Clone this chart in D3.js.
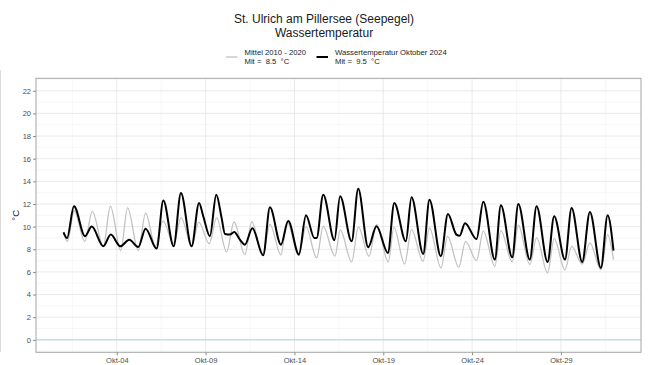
<!DOCTYPE html>
<html>
<head>
<meta charset="utf-8">
<script src="https://cdn.jsdelivr.net/npm/d3@7"></script>
<style>
  body { margin: 0; background: #fff; }
  text { font-family: "Liberation Sans", Arial, sans-serif; }
</style>
</head>
<body>
<svg width="649" height="365"></svg>
<script>
// days counted from Okt-01 00:00, values in °C
let mittel = [
  [0, 9.5], [0.22, 8.7], [0.6, 11.4],
  [1.2, 8.7], [1.62, 11.35],
  [2.24, 8.26], [2.64, 11.8],
  [3.22, 7.88], [3.61, 11.65],
  [4.21, 7.88], [4.62, 11.2],
  [5.18, 8.26], [5.6, 10.5],
  [6.2, 8.5], [6.62, 10.8],
  [7.21, 8.26], [7.62, 10.4],
  [8.2, 8.5], [8.62, 10.77],
  [9.18, 7.76], [9.6, 10.41],
  [10.21, 7.53], [10.6, 10.45],
  [11.2, 7.44], [11.62, 10.2],
  [12.24, 7.5], [12.58, 10.47],
  [13.24, 7.47], [13.65, 10.0],
  [14.25, 7.24], [14.62, 10.03],
  [15.28, 7.39], [15.58, 9.7],
  [16.22, 6.88], [16.6, 9.97],
  [17.2, 7.38], [17.62, 10.2],
  [18.28, 6.88], [18.6, 9.94],
  [19.2, 6.7], [19.59, 9.73],
  [20.24, 6.94], [20.6, 9.88],
  [21.25, 6.35], [21.62, 9.14],
  [22.25, 6.4], [22.63, 8.7],
  [23.25, 7.0], [23.63, 9.6],
  [24.28, 6.5], [24.62, 9.64],
  [25.26, 6.88], [25.6, 10.12],
  [26.25, 6.65], [26.63, 9.0],
  [27.25, 5.91], [27.62, 8.94],
  [28.23, 6.18], [28.6, 8.26],
  [29.2, 6.7], [29.63, 8.56],
  [30.25, 6.18], [30.63, 9.29],
  [30.96, 7.09]
];

let oktober2024 = [
  [0, 9.5], [0.2, 9.0], [0.59, 11.8],
  [1.21, 9.15], [1.59, 10.0],
  [2.24, 8.26], [2.66, 9.3],
  [3.2, 8.26], [3.7, 8.85],
  [4.21, 8.2], [4.62, 9.82],
  [5.24, 8.06], [5.62, 12.3],
  [6.2, 8.26], [6.61, 12.97],
  [7.21, 8.26], [7.63, 12.09], [7.87, 10.9],
  [8.24, 9.15], [8.6, 12.82], [8.9, 10.77],
  [9.09, 9.35], [9.37, 9.3], [9.61, 9.53], [9.93, 8.85],
  [10.21, 8.41], [10.63, 9.85],
  [11.24, 7.47], [11.62, 11.7],
  [12.24, 8.41], [12.65, 10.5],
  [13.25, 7.53], [13.65, 11.0],
  [14.12, 9.0], [14.25, 9.0], [14.62, 12.82],
  [15.25, 8.8], [15.57, 12.68],
  [16.22, 8.7], [16.59, 13.35],
  [17.15, 8.18], [17.62, 10.03],
  [18.26, 7.68], [18.62, 12.09],
  [19.27, 8.7], [19.59, 12.59],
  [20.25, 7.59], [20.6, 12.38],
  [21.24, 7.38], [21.64, 11.12],
  [22.12, 9.29], [22.3, 9.2], [22.6, 10.3],
  [23.25, 8.9], [23.63, 12.2],
  [24.28, 7.09], [24.62, 11.88],
  [25.26, 7.29], [25.6, 12.0],
  [26.25, 7.09], [26.63, 11.79],
  [27.25, 6.88], [27.62, 10.91],
  [28.23, 7.09], [28.6, 11.65],
  [29.2, 6.88], [29.63, 11.3],
  [30.25, 6.35], [30.63, 11.0],
  [30.96, 7.88]
];

let xTickDays = [3, 8, 13, 18, 23, 28];
let yTicks = d3.range(0, 23, 2);
let titleLines = ["St. Ulrich am Pillersee (Seepegel)", "Wassertemperatur"];
let legendLabels = [
  ["Mittel 2010 - 2020", "Mit =  8.5  °C"],
  ["Wassertemperatur Oktober 2024", "Mit =  9.5  °C"]
];

var svg = d3.select("svg");
let panel = { left: 36, right: 641, top: 78.3, bottom: 352.3 };

// ggplot-like 5% expansion
let xMax = d3.max(mittel, d => d[0]);
let xPad = xMax * 0.05;
let x = d3.scaleLinear().domain([-xPad, xMax + xPad]).range([panel.left, panel.right]);
let y = d3.scaleLinear().domain([-1.1, 23.1]).range([panel.bottom, panel.top]);

let g = svg.append("g");

// faint frame line at the far left
g.append("line").attr("x1", 0.5).attr("x2", 0.5).attr("y1", 70).attr("y2", 352)
  .attr("stroke", "#d9d9d9").attr("stroke-width", 1);

// grid
let minorY = d3.range(-1, 24, 2);
let minorX = xTickDays.map(d => d - 2.5).concat([xTickDays[xTickDays.length - 1] + 2.5]);
g.selectAll(".gy-minor").data(minorY).enter().append("line")
  .attr("x1", panel.left).attr("x2", panel.right)
  .attr("y1", d => y(d)).attr("y2", d => y(d))
  .attr("stroke", "#f2f2f2").attr("stroke-width", 0.6);
g.selectAll(".gx-minor").data(minorX).enter().append("line")
  .attr("y1", panel.top).attr("y2", panel.bottom)
  .attr("x1", d => x(d)).attr("x2", d => x(d))
  .attr("stroke", "#f2f2f2").attr("stroke-width", 0.6);
g.selectAll(".gy").data(yTicks).enter().append("line")
  .attr("x1", panel.left).attr("x2", panel.right)
  .attr("y1", d => y(d)).attr("y2", d => y(d))
  .attr("stroke", "#e6e6e6").attr("stroke-width", 0.9);
g.selectAll(".gx").data(xTickDays).enter().append("line")
  .attr("y1", panel.top).attr("y2", panel.bottom)
  .attr("x1", d => x(d)).attr("x2", d => x(d))
  .attr("stroke", "#e6e6e6").attr("stroke-width", 0.9);

// zero line
g.append("line").attr("x1", panel.left).attr("x2", panel.right)
  .attr("y1", y(0)).attr("y2", y(0))
  .attr("stroke", "#add8e6").attr("stroke-width", 1);

// series
let line = d3.line().x(d => x(d[0])).y(d => y(d[1])).curve(d3.curveMonotoneX);
g.append("path").attr("d", line(mittel))
  .attr("fill", "none").attr("stroke", "#c2c2c2").attr("stroke-width", 1.3);
g.append("path").attr("d", line(oktober2024))
  .attr("fill", "none").attr("stroke", "#000").attr("stroke-width", 2)
  .attr("stroke-linejoin", "round");

// panel border
g.append("rect").attr("x", panel.left).attr("y", panel.top)
  .attr("width", panel.right - panel.left).attr("height", panel.bottom - panel.top)
  .attr("fill", "none").attr("stroke", "#a6a6a6").attr("stroke-width", 1);

// axes
let xAxis = d3.axisBottom(x).tickValues(xTickDays).tickSize(3).tickPadding(2)
  .tickFormat(d => "Okt-" + String(d + 1).padStart(2, "0"));
let yAxis = d3.axisLeft(y).tickValues(yTicks).tickSize(3).tickPadding(2);
let xa = svg.append("g").attr("transform", `translate(0,${panel.bottom})`).call(xAxis);
let ya = svg.append("g").attr("transform", `translate(${panel.left},0)`).call(yAxis);
[xa, ya].forEach(a => {
  a.select(".domain").remove();
  a.selectAll(".tick line").attr("stroke", "#8c8c8c");
  a.selectAll(".tick text").attr("fill", "#4d4d4d").style("font-size", "7.5px")
    .style("font-family", "'Liberation Sans', Arial, sans-serif");
});

svg.append("text").attr("transform", `translate(19,${(panel.top + panel.bottom) / 2}) rotate(-90)`)
  .attr("text-anchor", "middle").style("font-size", "9.5px").attr("fill", "#1a1a1a").text("°C");

// title
svg.selectAll(".title").data(titleLines).enter().append("text")
  .attr("x", 324).attr("y", (d, i) => 23 + i * 13.5)
  .attr("text-anchor", "middle").style("font-size", "12px").attr("fill", "#1a1a1a")
  .text(d => d);

// legend
let legendX = [226, 316.5];
let legendStyle = [{ c: "#c2c2c2", w: 1.3 }, { c: "#000", w: 2 }];
legendLabels.forEach((lab, i) => {
  let lg = svg.append("g").attr("transform", translate(legendX[i], 57));
  lg.append("line").attr("x1", 0).attr("x2", 11.5).attr("y1", 0).attr("y2", 0)
    .attr("stroke", legendStyle[i].c).attr("stroke-width", legendStyle[i].w);
  lg.selectAll("text").data(lab).enter().append("text")
    .attr("x", 18.5).attr("y", (d, j) => -2.5 + j * 9.2)
    .style("font-size", "7.7px").style("white-space", "pre").attr("fill", "#1a1a1a")
    .text(d => d);
});

function translate(a, b) {
  return `translate(${a},${b})`;
}
</script>
</body>
</html>
